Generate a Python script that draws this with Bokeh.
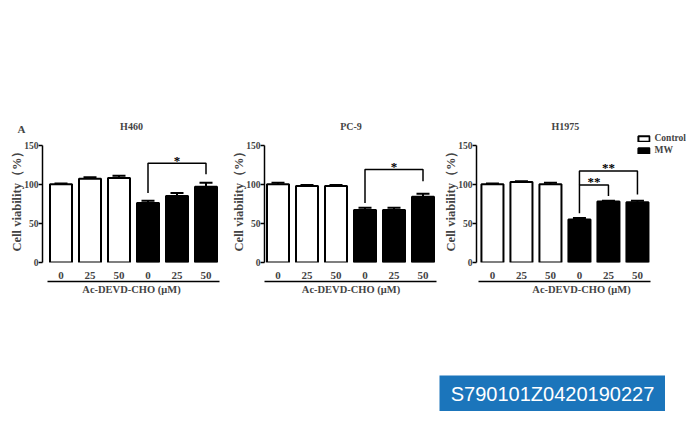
from bokeh.plotting import figure
from bokeh.models import (ColumnDataSource, FixedTicker, LinearAxis, Range1d, Legend,
                          LegendItem, Whisker, TeeHead, Label, Spacer, Title)
from bokeh.layouts import row, column
from bokeh.embed import file_html
from bokeh.resources import INLINE
from bokeh.core.properties import value

# ---------------- data ----------------
cell_lines = ["H460", "PC-9", "H1975"]
doses = ["0", "25", "50"]
groups = ["Control", "MW"]
y_ticks = [0, 50, 100, 150]

h460_control = [100, 107, 108]
h460_control_err = [1, 2, 3]
h460_mw = [76, 85, 97]
h460_mw_err = [3, 4, 5]

pc9_control = [100, 98, 98]
pc9_control_err = [2, 1, 1]
pc9_mw = [67, 67, 84]
pc9_mw_err = [3, 3, 4]

h1975_control = [100, 103, 100]
h1975_control_err = [1, 1, 2]
h1975_mw = [55, 78, 77]
h1975_mw_err = [2, 1, 2]

# significance brackets: bar index from/to, bracket level, leg ends, label
h460_sig_from = [3]
h460_sig_to = [5]
h460_sig_level = [127]
h460_sig_left = [89]
h460_sig_right = [113]
h460_sig_label = ["*"]

pc9_sig_from = [3]
pc9_sig_to = [5]
pc9_sig_level = [119]
pc9_sig_left = [76]
pc9_sig_right = [104]
pc9_sig_label = ["*"]

h1975_sig_from = [3, 3]
h1975_sig_to = [4, 5]
h1975_sig_level = [99, 117]
h1975_sig_left = [63, 99]
h1975_sig_right = [85, 87]
h1975_sig_label = ["**", "**"]

SERIF = "Liberation Serif"
UNIT_PX = 29.0  # horizontal pixels per bar slot


def make_panel(name, ctrl, ctrl_err, mw, mw_err, s_from, s_to, s_level, s_left, s_right,
               s_label, frame_w, border_l, border_r, x_end=5.5, with_legend=False, letter=None):
    if with_legend:
        x_start = -0.55
        x_end = x_start + frame_w / UNIT_PX
    else:
        x_start = x_end - frame_w / UNIT_PX
    p = figure(frame_width=frame_w, frame_height=129, output_backend="svg",
               toolbar_location=None, x_range=Range1d(x_start, x_end), y_range=Range1d(0, 165),
               min_border_left=border_l, min_border_right=border_r,
               min_border_top=30, min_border_bottom=0)
    p.outline_line_color = None
    p.grid.visible = False
    p.background_fill_color = None
    p.border_fill_color = None

    n = len(doses)
    x_ctrl = list(range(n))
    x_mw = [n + i for i in range(n)]

    src_c = ColumnDataSource(dict(x=x_ctrl, top=ctrl, upper=[v + e for v, e in zip(ctrl, ctrl_err)]))
    src_m = ColumnDataSource(dict(x=x_mw, top=mw, upper=[v + e for v, e in zip(mw, mw_err)]))

    for src in (src_c, src_m):
        w = Whisker(source=src, base="x", lower="top", upper="upper",
                    upper_head=TeeHead(size=13, line_width=2, line_color="black"),
                    lower_head=None, line_width=2, line_color="black")
        p.add_layout(w)

    r_c = p.vbar(x="x", top="top", bottom=0, width=0.76, source=src_c,
                 fill_color="white", line_color="black", line_width=2)
    r_m = p.vbar(x="x", top="top", bottom=0, width=0.76, source=src_m,
                 fill_color="black", line_color="black", line_width=2)

    # significance brackets
    xs, ys, tx, ty = [], [], [], []
    for f, t, lv, le, re_ in zip(s_from, s_to, s_level, s_left, s_right):
        xs.append([f, f, t, t])
        ys.append([le, lv, lv, re_])
        tx.append((f + t) / 2)
        ty.append(lv + 4)
    p.multi_line(xs=xs, ys=ys, line_color="#000000", line_width=1.5)
    p.text(x=tx, y=ty, text=s_label, text_align="center", text_baseline="alphabetic",
           text_font=value(SERIF), text_font_style="bold", text_font_size="13px",
           text_color="#000000")

    # y axis
    ya = p.yaxis[0]
    ya.ticker = FixedTicker(ticks=y_ticks)
    ya.bounds = (0, 150)
    ya.minor_tick_line_color = None
    ya.major_tick_in = 0
    ya.major_tick_out = 4
    ya.major_tick_line_width = 1.5
    ya.axis_line_width = 1.5
    ya.major_label_text_font = SERIF
    ya.major_label_text_font_style = "bold"
    ya.major_label_text_font_size = "9.5px"
    ya.major_label_standoff = 0
    ya.axis_label = "Cell viability（%）"
    ya.axis_label_text_font = SERIF
    ya.axis_label_text_font_style = "bold"
    ya.axis_label_text_font_size = "12.5px"
    ya.axis_label_standoff = -3

    # x axis: dose labels
    xa = p.xaxis[0]
    xa.ticker = FixedTicker(ticks=x_ctrl + x_mw)
    xa.major_label_overrides = {i: d for i, d in zip(x_ctrl + x_mw, doses + doses)}
    xa.axis_line_color = None
    xa.major_tick_line_color = None
    xa.minor_tick_line_color = None
    xa.major_label_text_font = SERIF
    xa.major_label_text_font_style = "bold"
    xa.major_label_text_font_size = "11px"
    xa.major_label_standoff = 3

    # underline + treatment label
    xa2 = LinearAxis(ticker=FixedTicker(ticks=[]), bounds=(-0.48, 5.45),
                     axis_label="Ac-DEVD-CHO (μM)", axis_line_width=1.5,
                     major_tick_line_color=None, minor_tick_line_color=None,
                     major_label_text_font_size="0px",
                     axis_label_text_font=SERIF, axis_label_text_font_style="bold",
                     axis_label_text_font_size="10.5px", axis_label_standoff=2)
    p.add_layout(xa2, "below")

    title_kw = dict(text_font=SERIF, text_font_style="bold", text_font_size="10px", standoff=3)
    if letter:
        # panel letter as the outer title, pulled down onto the panel-title line
        p.title.text = letter
        p.title.align = "left"
        p.title.offset = -25
        p.title.standoff = -35
        p.title.text_font = SERIF
        p.title.text_font_style = "bold"
        p.title.text_font_size = "11px"
        p.add_layout(Title(text=name, align="center", **title_kw), "above")
    else:
        p.title.text = name
        if with_legend:
            p.title.align = "left"
            p.title.offset = 3 * UNIT_PX - 12
        else:
            p.title.align = "center"
        p.title.text_font = SERIF
        p.title.text_font_style = "bold"
        p.title.text_font_size = "10px"
        p.title.standoff = 3

    if with_legend:
        leg = Legend(items=[LegendItem(label=groups[0], renderers=[r_c]),
                            LegendItem(label=groups[1], renderers=[r_m])],
                     location="top_right", glyph_width=14, glyph_height=7,
                     label_text_font=SERIF, label_text_font_style="bold",
                     label_text_font_size="9.5px", label_standoff=4, label_height=8,
                     border_line_color=None, background_fill_alpha=0,
                     padding=0, margin=0, spacing=2)
        p.add_layout(leg)
    return p


p1 = make_panel(cell_lines[0], h460_control, h460_control_err, h460_mw, h460_mw_err,
                h460_sig_from, h460_sig_to, h460_sig_level, h460_sig_left, h460_sig_right,
                h460_sig_label, 178, 42, 8, letter="A")
p2 = make_panel(cell_lines[1], pc9_control, pc9_control_err, pc9_mw, pc9_mw_err,
                pc9_sig_from, pc9_sig_to, pc9_sig_level, pc9_sig_left, pc9_sig_right,
                pc9_sig_label, 173, 36, 3)
p3 = make_panel(cell_lines[2], h1975_control, h1975_control_err, h1975_mw, h1975_mw_err,
                h1975_sig_from, h1975_sig_to, h1975_sig_level, h1975_sig_left, h1975_sig_right,
                h1975_sig_label, 210, 36, 0, with_legend=True)

# catalogue id box
box = figure(frame_width=226, frame_height=36, output_backend="svg", toolbar_location=None,
             x_axis_type=None, y_axis_type=None, min_border_left=439, min_border_top=0,
             min_border_bottom=0, min_border_right=0,
             x_range=Range1d(0, 1), y_range=Range1d(0, 1))
box.outline_line_color = None
box.grid.visible = False
box.background_fill_color = "#1b75bb"
box.border_fill_color = None
box.add_layout(Label(x=0.5, y=0.5, x_units="data", y_units="data", text="S790101Z0420190227",
                     text_font="Liberation Sans", text_font_size="20px", text_color="white",
                     text_align="center", text_baseline="middle"))

layout = column(Spacer(height=103),
                row(p1, p2, p3),
                Spacer(height=78),
                box)

open("out.html", "w").write(file_html(layout, INLINE))
